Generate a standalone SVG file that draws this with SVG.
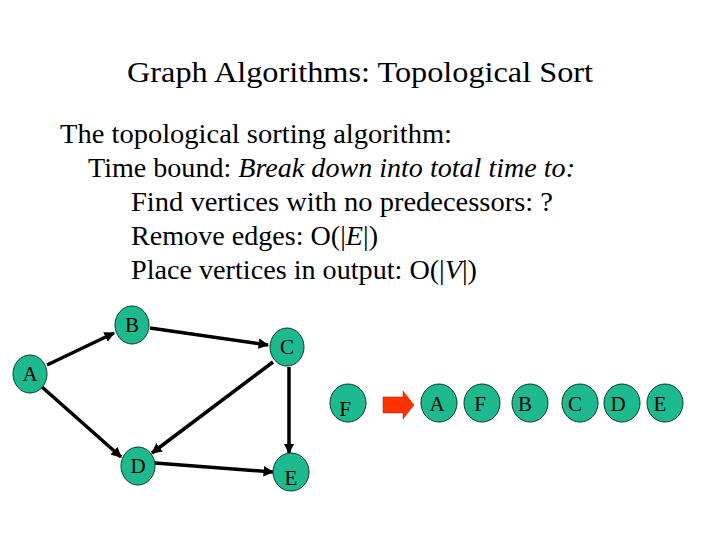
<svg xmlns="http://www.w3.org/2000/svg" width="720" height="540" viewBox="0 0 720 540">
<style>
text{font-family:"Liberation Serif",serif;fill:#000}
.n ellipse{fill:#1DB98F;stroke:#0a3a2c;stroke-width:1}
.n text{font-size:21px;text-anchor:middle}
.t{font-size:27px}
.e line{stroke:#000;stroke-width:3.5;marker-end:url(#ah)}
</style>
<defs><marker id="ah" viewBox="0 0 10 10" refX="9" refY="5" markerWidth="3" markerHeight="3" orient="auto"><path d="M0,0L10,5L0,10z" fill="#000"/></marker></defs>
<rect width="720" height="540" fill="#fff"/>
<text x="127" y="82" font-size="29" textLength="466" lengthAdjust="spacingAndGlyphs">Graph Algorithms: Topological Sort</text>
<text class="t" x="60" y="143" textLength="392" lengthAdjust="spacingAndGlyphs">The topological sorting algorithm:</text>
<text class="t" x="88" y="177" textLength="487" lengthAdjust="spacingAndGlyphs">Time bound: <tspan font-style="italic">Break down into total time to:</tspan></text>
<text class="t" x="131" y="211" textLength="422" lengthAdjust="spacingAndGlyphs">Find vertices with no predecessors:  ?</text>
<text class="t" x="131" y="245" textLength="247" lengthAdjust="spacingAndGlyphs">Remove edges: O(|<tspan font-style="italic">E</tspan>|)</text>
<text class="t" x="131" y="279" textLength="346" lengthAdjust="spacingAndGlyphs">Place vertices in output: O(|<tspan font-style="italic">V</tspan>|)</text>
<g class="e" id="edges">
<line x1="47" y1="365" x2="114" y2="333"/>
<line x1="150" y1="328" x2="268" y2="345"/>
<line x1="42" y1="387" x2="121" y2="457"/>
<line x1="273" y1="362" x2="152" y2="453"/>
<line x1="289" y1="367" x2="289" y2="453"/>
<line x1="155" y1="463" x2="273" y2="472"/>
</g>
<g class="n" id="A"><ellipse cx="30" cy="374" rx="17" ry="19"/><text x="30" y="381">A</text></g>
<g class="n" id="B"><ellipse cx="132" cy="325" rx="17" ry="19"/><text x="132" y="332">B</text></g>
<g class="n" id="C"><ellipse cx="287" cy="347" rx="17" ry="19"/><text x="287" y="354">C</text></g>
<g class="n" id="D"><ellipse cx="138" cy="466" rx="17" ry="19"/><text x="138" y="473">D</text></g>
<g class="n" id="E"><ellipse cx="291" cy="472" rx="18" ry="19"/><text x="291" y="485">E</text></g>
<g class="n" id="F"><ellipse cx="348" cy="403" rx="18" ry="19"/><text x="345" y="416">F</text></g>
<path id="arrow" d="M383,397H403V391L414,405L403,419V413H383z" fill="#FF3300" stroke="#a02000" stroke-width="0.5"/>
<g class="n" id="oA"><ellipse cx="439" cy="403" rx="18" ry="19"/><text x="437" y="411">A</text></g>
<g class="n" id="oF"><ellipse cx="482" cy="403" rx="18" ry="19"/><text x="480" y="411">F</text></g>
<g class="n" id="oB"><ellipse cx="530" cy="403" rx="18" ry="19"/><text x="525" y="411">B</text></g>
<g class="n" id="oC"><ellipse cx="580" cy="403" rx="18" ry="19"/><text x="575" y="411">C</text></g>
<g class="n" id="oD"><ellipse cx="622" cy="403" rx="18" ry="19"/><text x="618" y="411">D</text></g>
<g class="n" id="oE"><ellipse cx="665" cy="403" rx="18" ry="19"/><text x="660" y="411">E</text></g>
</svg>
